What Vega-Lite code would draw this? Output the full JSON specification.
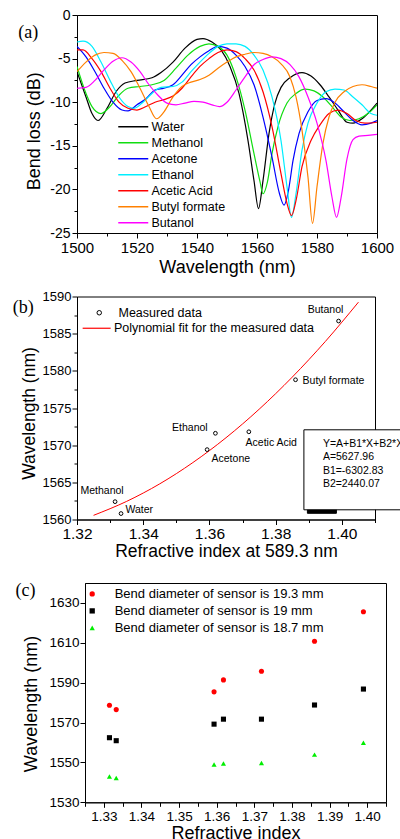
{
  "$schema": "https://vega.github.io/schema/vega-lite/v6.json",
  "background": "white",
  "padding": {"left": 12, "top": 7, "right": 22, "bottom": 0},
  "spacing": 63.5,
  "bounds": "flush",
  "resolve": {
    "scale": {"color": "independent", "shape": "independent", "fill": "independent", "stroke": "independent"},
    "legend": {"color": "independent", "shape": "independent", "fill": "independent", "stroke": "independent"}
  },
  "config": {
    "font": "Liberation Sans",
    "view": {"stroke": "black", "strokeWidth": 1},
    "axis": {"grid": false, "domainColor": "black", "tickColor": "black", "labelColor": "black", "titleColor": "black", "labelFont": "Liberation Sans", "titleFont": "Liberation Sans", "titleFontWeight": "normal", "labelFlush": false, "labelOverlap": false, "tickWidth": 1, "domainWidth": 1},
    "legend": {"labelFont": "Liberation Sans", "labelColor": "black", "labelLimit": 400},
    "title": {"font": "Liberation Serif", "fontWeight": "normal", "color": "black"}
  },
  "datasets": {
    "spectra": [
      {"liquid":"Water","wl":1500,"loss":-6.5},{"liquid":"Water","wl":1503,"loss":-9.4},{"liquid":"Water","wl":1505,"loss":-11.3},{"liquid":"Water","wl":1507,"loss":-12.1},{"liquid":"Water","wl":1510,"loss":-10.7},{"liquid":"Water","wl":1513,"loss":-8.8},{"liquid":"Water","wl":1516,"loss":-7.8},{"liquid":"Water","wl":1520,"loss":-7.5},{"liquid":"Water","wl":1525,"loss":-7.2},{"liquid":"Water","wl":1528,"loss":-6.6},{"liquid":"Water","wl":1532,"loss":-5.4},{"liquid":"Water","wl":1536,"loss":-3.8},{"liquid":"Water","wl":1540,"loss":-2.8},{"liquid":"Water","wl":1542,"loss":-2.7},{"liquid":"Water","wl":1545,"loss":-3.1},{"liquid":"Water","wl":1548,"loss":-4.0},{"liquid":"Water","wl":1551,"loss":-5.9},{"liquid":"Water","wl":1554,"loss":-9.0},{"liquid":"Water","wl":1557,"loss":-14.4},{"liquid":"Water","wl":1559,"loss":-19.0},{"liquid":"Water","wl":1560.5,"loss":-22.2},{"liquid":"Water","wl":1562,"loss":-19.0},{"liquid":"Water","wl":1564,"loss":-13.6},{"liquid":"Water","wl":1566,"loss":-10.1},{"liquid":"Water","wl":1568,"loss":-8.3},{"liquid":"Water","wl":1571,"loss":-7.2},{"liquid":"Water","wl":1575,"loss":-6.6},{"liquid":"Water","wl":1578,"loss":-7.0},{"liquid":"Water","wl":1581,"loss":-8.0},{"liquid":"Water","wl":1584,"loss":-9.4},{"liquid":"Water","wl":1587,"loss":-10.9},{"liquid":"Water","wl":1590,"loss":-12.3},{"liquid":"Water","wl":1592,"loss":-12.4},{"liquid":"Water","wl":1595,"loss":-11.9},{"liquid":"Water","wl":1598,"loss":-10.9},{"liquid":"Water","wl":1600,"loss":-10.1},
      {"liquid":"Methanol","wl":1500,"loss":-5.9},{"liquid":"Methanol","wl":1503,"loss":-9.0},{"liquid":"Methanol","wl":1505,"loss":-10.5},{"liquid":"Methanol","wl":1508,"loss":-11.3},{"liquid":"Methanol","wl":1511,"loss":-10.5},{"liquid":"Methanol","wl":1514,"loss":-9.2},{"liquid":"Methanol","wl":1517,"loss":-8.4},{"liquid":"Methanol","wl":1521,"loss":-8.2},{"liquid":"Methanol","wl":1525,"loss":-8.0},{"liquid":"Methanol","wl":1529,"loss":-7.5},{"liquid":"Methanol","wl":1533,"loss":-6.1},{"liquid":"Methanol","wl":1537,"loss":-4.6},{"liquid":"Methanol","wl":1541,"loss":-3.6},{"liquid":"Methanol","wl":1544,"loss":-3.3},{"liquid":"Methanol","wl":1547,"loss":-3.6},{"liquid":"Methanol","wl":1550,"loss":-4.6},{"liquid":"Methanol","wl":1553,"loss":-7.1},{"liquid":"Methanol","wl":1556,"loss":-10.9},{"liquid":"Methanol","wl":1559,"loss":-15.9},{"liquid":"Methanol","wl":1561,"loss":-19.1},{"liquid":"Methanol","wl":1562,"loss":-20.5},{"liquid":"Methanol","wl":1563.5,"loss":-19.1},{"liquid":"Methanol","wl":1565,"loss":-15.9},{"liquid":"Methanol","wl":1567,"loss":-12.8},{"liquid":"Methanol","wl":1570,"loss":-10.1},{"liquid":"Methanol","wl":1573,"loss":-9.0},{"liquid":"Methanol","wl":1576,"loss":-8.5},{"liquid":"Methanol","wl":1579,"loss":-8.7},{"liquid":"Methanol","wl":1582,"loss":-9.4},{"liquid":"Methanol","wl":1585,"loss":-10.5},{"liquid":"Methanol","wl":1588,"loss":-11.7},{"liquid":"Methanol","wl":1591,"loss":-12.1},{"liquid":"Methanol","wl":1594,"loss":-11.9},{"liquid":"Methanol","wl":1597,"loss":-11.3},{"liquid":"Methanol","wl":1600,"loss":-10.3},
      {"liquid":"Acetone","wl":1500,"loss":-3.6},{"liquid":"Acetone","wl":1503,"loss":-4.8},{"liquid":"Acetone","wl":1506,"loss":-6.5},{"liquid":"Acetone","wl":1509,"loss":-8.4},{"liquid":"Acetone","wl":1512,"loss":-10.0},{"liquid":"Acetone","wl":1515,"loss":-10.9},{"liquid":"Acetone","wl":1517,"loss":-11.0},{"liquid":"Acetone","wl":1520,"loss":-10.3},{"liquid":"Acetone","wl":1523,"loss":-9.6},{"liquid":"Acetone","wl":1526,"loss":-8.6},{"liquid":"Acetone","wl":1529,"loss":-8.4},{"liquid":"Acetone","wl":1532,"loss":-8.0},{"liquid":"Acetone","wl":1535,"loss":-6.9},{"liquid":"Acetone","wl":1538,"loss":-5.7},{"liquid":"Acetone","wl":1541,"loss":-4.8},{"liquid":"Acetone","wl":1544,"loss":-4.1},{"liquid":"Acetone","wl":1547,"loss":-3.6},{"liquid":"Acetone","wl":1550,"loss":-3.8},{"liquid":"Acetone","wl":1553,"loss":-4.6},{"liquid":"Acetone","wl":1556,"loss":-5.9},{"liquid":"Acetone","wl":1559,"loss":-8.0},{"liquid":"Acetone","wl":1562,"loss":-11.7},{"liquid":"Acetone","wl":1565,"loss":-16.3},{"liquid":"Acetone","wl":1567.5,"loss":-20.5},{"liquid":"Acetone","wl":1569,"loss":-21.8},{"liquid":"Acetone","wl":1570.5,"loss":-20.1},{"liquid":"Acetone","wl":1572,"loss":-16.7},{"liquid":"Acetone","wl":1574,"loss":-13.6},{"liquid":"Acetone","wl":1577,"loss":-11.1},{"liquid":"Acetone","wl":1580,"loss":-9.8},{"liquid":"Acetone","wl":1583,"loss":-9.6},{"liquid":"Acetone","wl":1586,"loss":-10.1},{"liquid":"Acetone","wl":1589,"loss":-11.1},{"liquid":"Acetone","wl":1592,"loss":-12.1},{"liquid":"Acetone","wl":1595,"loss":-12.6},{"liquid":"Acetone","wl":1598,"loss":-12.4},{"liquid":"Acetone","wl":1600,"loss":-12.1},
      {"liquid":"Ethanol","wl":1500,"loss":-3.1},{"liquid":"Ethanol","wl":1502,"loss":-3.0},{"liquid":"Ethanol","wl":1505,"loss":-3.6},{"liquid":"Ethanol","wl":1508,"loss":-5.4},{"liquid":"Ethanol","wl":1511,"loss":-7.5},{"liquid":"Ethanol","wl":1514,"loss":-9.4},{"liquid":"Ethanol","wl":1517,"loss":-10.5},{"liquid":"Ethanol","wl":1519,"loss":-10.7},{"liquid":"Ethanol","wl":1522,"loss":-10.0},{"liquid":"Ethanol","wl":1525,"loss":-9.0},{"liquid":"Ethanol","wl":1528,"loss":-8.3},{"liquid":"Ethanol","wl":1532,"loss":-8.2},{"liquid":"Ethanol","wl":1535,"loss":-7.7},{"liquid":"Ethanol","wl":1538,"loss":-6.5},{"liquid":"Ethanol","wl":1541,"loss":-5.4},{"liquid":"Ethanol","wl":1544,"loss":-4.4},{"liquid":"Ethanol","wl":1547,"loss":-3.6},{"liquid":"Ethanol","wl":1550,"loss":-3.3},{"liquid":"Ethanol","wl":1553,"loss":-3.3},{"liquid":"Ethanol","wl":1556,"loss":-3.6},{"liquid":"Ethanol","wl":1559,"loss":-4.6},{"liquid":"Ethanol","wl":1562,"loss":-6.3},{"liquid":"Ethanol","wl":1565,"loss":-9.4},{"liquid":"Ethanol","wl":1568,"loss":-14.4},{"liquid":"Ethanol","wl":1570,"loss":-19.7},{"liquid":"Ethanol","wl":1571.5,"loss":-23.2},{"liquid":"Ethanol","wl":1573,"loss":-20.5},{"liquid":"Ethanol","wl":1575,"loss":-15.5},{"liquid":"Ethanol","wl":1577,"loss":-12.4},{"liquid":"Ethanol","wl":1580,"loss":-10.1},{"liquid":"Ethanol","wl":1583,"loss":-8.8},{"liquid":"Ethanol","wl":1586,"loss":-8.5},{"liquid":"Ethanol","wl":1589,"loss":-8.6},{"liquid":"Ethanol","wl":1592,"loss":-9.4},{"liquid":"Ethanol","wl":1595,"loss":-10.3},{"liquid":"Ethanol","wl":1598,"loss":-11.3},{"liquid":"Ethanol","wl":1600,"loss":-11.5},
      {"liquid":"Acetic Acid","wl":1500,"loss":-4.0},{"liquid":"Acetic Acid","wl":1502,"loss":-4.0},{"liquid":"Acetic Acid","wl":1505,"loss":-5.0},{"liquid":"Acetic Acid","wl":1508,"loss":-6.5},{"liquid":"Acetic Acid","wl":1511,"loss":-8.4},{"liquid":"Acetic Acid","wl":1514,"loss":-10.0},{"liquid":"Acetic Acid","wl":1517,"loss":-10.7},{"liquid":"Acetic Acid","wl":1520,"loss":-10.9},{"liquid":"Acetic Acid","wl":1523,"loss":-10.5},{"liquid":"Acetic Acid","wl":1526,"loss":-10.0},{"liquid":"Acetic Acid","wl":1529,"loss":-9.7},{"liquid":"Acetic Acid","wl":1532,"loss":-9.3},{"liquid":"Acetic Acid","wl":1535,"loss":-8.4},{"liquid":"Acetic Acid","wl":1538,"loss":-7.1},{"liquid":"Acetic Acid","wl":1541,"loss":-5.9},{"liquid":"Acetic Acid","wl":1544,"loss":-5.0},{"liquid":"Acetic Acid","wl":1547,"loss":-4.3},{"liquid":"Acetic Acid","wl":1550,"loss":-4.0},{"liquid":"Acetic Acid","wl":1553,"loss":-4.2},{"liquid":"Acetic Acid","wl":1556,"loss":-5.0},{"liquid":"Acetic Acid","wl":1559,"loss":-6.3},{"liquid":"Acetic Acid","wl":1562,"loss":-8.8},{"liquid":"Acetic Acid","wl":1565,"loss":-12.8},{"liquid":"Acetic Acid","wl":1568,"loss":-18.2},{"liquid":"Acetic Acid","wl":1570,"loss":-21.6},{"liquid":"Acetic Acid","wl":1571.5,"loss":-23.0},{"liquid":"Acetic Acid","wl":1573,"loss":-21.3},{"liquid":"Acetic Acid","wl":1575,"loss":-17.4},{"liquid":"Acetic Acid","wl":1578,"loss":-14.4},{"liquid":"Acetic Acid","wl":1581,"loss":-12.6},{"liquid":"Acetic Acid","wl":1584,"loss":-11.3},{"liquid":"Acetic Acid","wl":1587,"loss":-10.9},{"liquid":"Acetic Acid","wl":1590,"loss":-11.3},{"liquid":"Acetic Acid","wl":1593,"loss":-12.1},{"liquid":"Acetic Acid","wl":1596,"loss":-12.4},{"liquid":"Acetic Acid","wl":1600,"loss":-12.3},
      {"liquid":"Butyl formate","wl":1500,"loss":-6.5},{"liquid":"Butyl formate","wl":1503,"loss":-5.4},{"liquid":"Butyl formate","wl":1506,"loss":-4.6},{"liquid":"Butyl formate","wl":1509,"loss":-4.3},{"liquid":"Butyl formate","wl":1512,"loss":-4.4},{"liquid":"Butyl formate","wl":1515,"loss":-5.2},{"liquid":"Butyl formate","wl":1518,"loss":-6.5},{"liquid":"Butyl formate","wl":1521,"loss":-8.4},{"liquid":"Butyl formate","wl":1524,"loss":-10.5},{"liquid":"Butyl formate","wl":1526.5,"loss":-11.9},{"liquid":"Butyl formate","wl":1529,"loss":-11.1},{"liquid":"Butyl formate","wl":1532,"loss":-9.4},{"liquid":"Butyl formate","wl":1535,"loss":-8.2},{"liquid":"Butyl formate","wl":1538,"loss":-7.7},{"liquid":"Butyl formate","wl":1541,"loss":-7.4},{"liquid":"Butyl formate","wl":1544,"loss":-6.9},{"liquid":"Butyl formate","wl":1547,"loss":-6.1},{"liquid":"Butyl formate","wl":1550,"loss":-5.4},{"liquid":"Butyl formate","wl":1553,"loss":-4.8},{"liquid":"Butyl formate","wl":1556,"loss":-4.5},{"liquid":"Butyl formate","wl":1559,"loss":-4.3},{"liquid":"Butyl formate","wl":1562,"loss":-4.4},{"liquid":"Butyl formate","wl":1565,"loss":-4.8},{"liquid":"Butyl formate","wl":1568,"loss":-5.6},{"liquid":"Butyl formate","wl":1571,"loss":-7.1},{"liquid":"Butyl formate","wl":1573,"loss":-9.4},{"liquid":"Butyl formate","wl":1575,"loss":-13.2},{"liquid":"Butyl formate","wl":1577,"loss":-18.6},{"liquid":"Butyl formate","wl":1578.5,"loss":-23.9},{"liquid":"Butyl formate","wl":1580,"loss":-19.7},{"liquid":"Butyl formate","wl":1582,"loss":-14.7},{"liquid":"Butyl formate","wl":1584,"loss":-11.7},{"liquid":"Butyl formate","wl":1586,"loss":-10.0},{"liquid":"Butyl formate","wl":1589,"loss":-8.8},{"liquid":"Butyl formate","wl":1592,"loss":-8.2},{"liquid":"Butyl formate","wl":1595,"loss":-8.0},{"liquid":"Butyl formate","wl":1598,"loss":-8.2},{"liquid":"Butyl formate","wl":1600,"loss":-8.4},
      {"liquid":"Butanol","wl":1500,"loss":-8.4},{"liquid":"Butanol","wl":1503,"loss":-8.3},{"liquid":"Butanol","wl":1506,"loss":-7.5},{"liquid":"Butanol","wl":1509,"loss":-6.3},{"liquid":"Butanol","wl":1512,"loss":-5.3},{"liquid":"Butanol","wl":1515,"loss":-4.9},{"liquid":"Butanol","wl":1518,"loss":-5.4},{"liquid":"Butanol","wl":1521,"loss":-6.5},{"liquid":"Butanol","wl":1524,"loss":-8.0},{"liquid":"Butanol","wl":1527,"loss":-9.2},{"liquid":"Butanol","wl":1530,"loss":-10.1},{"liquid":"Butanol","wl":1533,"loss":-10.3},{"liquid":"Butanol","wl":1536,"loss":-10.1},{"liquid":"Butanol","wl":1539,"loss":-9.9},{"liquid":"Butanol","wl":1542,"loss":-10.0},{"liquid":"Butanol","wl":1545,"loss":-10.3},{"liquid":"Butanol","wl":1547.5,"loss":-10.5},{"liquid":"Butanol","wl":1550,"loss":-10.0},{"liquid":"Butanol","wl":1553,"loss":-8.6},{"liquid":"Butanol","wl":1556,"loss":-7.1},{"liquid":"Butanol","wl":1559,"loss":-5.7},{"liquid":"Butanol","wl":1562,"loss":-5.1},{"liquid":"Butanol","wl":1565,"loss":-4.8},{"liquid":"Butanol","wl":1568,"loss":-5.0},{"liquid":"Butanol","wl":1571,"loss":-5.7},{"liquid":"Butanol","wl":1574,"loss":-7.1},{"liquid":"Butanol","wl":1577,"loss":-9.4},{"liquid":"Butanol","wl":1580,"loss":-12.4},{"liquid":"Butanol","wl":1583,"loss":-16.7},{"liquid":"Butanol","wl":1585,"loss":-20.9},{"liquid":"Butanol","wl":1586.5,"loss":-23.2},{"liquid":"Butanol","wl":1588,"loss":-21.0},{"liquid":"Butanol","wl":1590,"loss":-16.5},{"liquid":"Butanol","wl":1592,"loss":-14.3},{"liquid":"Butanol","wl":1594,"loss":-13.9},{"liquid":"Butanol","wl":1597,"loss":-13.8},{"liquid":"Butanol","wl":1600,"loss":-13.7}
    ],
    "measured": [
      {"liquid":"Methanol","ri":1.3315,"wl":1562.4},
      {"liquid":"Water","ri":1.3333,"wl":1560.8},
      {"liquid":"Acetone","ri":1.3593,"wl":1569.4},
      {"liquid":"Ethanol","ri":1.3618,"wl":1571.6},
      {"liquid":"Acetic Acid","ri":1.3719,"wl":1571.8},
      {"liquid":"Butyl formate","ri":1.386,"wl":1578.8},
      {"liquid":"Butanol","ri":1.399,"wl":1586.7}
    ],
    "fit": [
      {"ri":1.325,"wl":1560.56},{"ri":1.335,"wl":1562.44},{"ri":1.345,"wl":1564.80},{"ri":1.355,"wl":1567.66},{"ri":1.365,"wl":1571.00},{"ri":1.375,"wl":1574.83},{"ri":1.385,"wl":1579.15},{"ri":1.395,"wl":1583.95},{"ri":1.405,"wl":1589.24}
    ],
    "equation": [
      {"k":"1","line":"Y=A+B1*X+B2*X²"},{"k":"2","line":"A=5627.96"},{"k":"3","line":"B1=-6302.83"},{"k":"4","line":"B2=2440.07"}
    ],
    "bend": [
      {"series":"Bend diameter of sensor is 19.3 mm","ri":1.3315,"wl":1578.7},
      {"series":"Bend diameter of sensor is 19.3 mm","ri":1.3333,"wl":1576.5},
      {"series":"Bend diameter of sensor is 19.3 mm","ri":1.3593,"wl":1585.4},
      {"series":"Bend diameter of sensor is 19.3 mm","ri":1.3618,"wl":1591.4},
      {"series":"Bend diameter of sensor is 19.3 mm","ri":1.3719,"wl":1595.7},
      {"series":"Bend diameter of sensor is 19.3 mm","ri":1.386,"wl":1610.8},
      {"series":"Bend diameter of sensor is 19.3 mm","ri":1.399,"wl":1625.6},
      {"series":"Bend diameter of sensor is 19 mm","ri":1.3315,"wl":1562.4},
      {"series":"Bend diameter of sensor is 19 mm","ri":1.3333,"wl":1560.9},
      {"series":"Bend diameter of sensor is 19 mm","ri":1.3593,"wl":1569.2},
      {"series":"Bend diameter of sensor is 19 mm","ri":1.3618,"wl":1571.7},
      {"series":"Bend diameter of sensor is 19 mm","ri":1.3719,"wl":1571.7},
      {"series":"Bend diameter of sensor is 19 mm","ri":1.386,"wl":1578.8},
      {"series":"Bend diameter of sensor is 19 mm","ri":1.399,"wl":1586.8},
      {"series":"Bend diameter of sensor is 18.7 mm","ri":1.3315,"wl":1542.9},
      {"series":"Bend diameter of sensor is 18.7 mm","ri":1.3333,"wl":1542.2},
      {"series":"Bend diameter of sensor is 18.7 mm","ri":1.3593,"wl":1549.0},
      {"series":"Bend diameter of sensor is 18.7 mm","ri":1.3618,"wl":1549.5},
      {"series":"Bend diameter of sensor is 18.7 mm","ri":1.3719,"wl":1549.7},
      {"series":"Bend diameter of sensor is 18.7 mm","ri":1.386,"wl":1553.9},
      {"series":"Bend diameter of sensor is 18.7 mm","ri":1.399,"wl":1559.9}
    ]
  },
  "vconcat": [
    {
      "width": 300,
      "height": 218,
      "title": {"text": "(a)", "anchor": "start", "frame": "group", "orient": "top", "baseline": "middle", "offset": 0, "dx": -58.7, "dy": 43, "fontSize": 18},
      "data": {"name": "spectra"},
      "mark": {"type": "line", "interpolate": "monotone", "strokeWidth": 1.2, "clip": true},
      "encoding": {
        "x": {"field": "wl", "type": "quantitative", "scale": {"domain": [1500, 1600], "nice": false, "zero": false},
          "axis": {"title": "Wavelength (nm)", "values": [1500,1510,1520,1530,1540,1550,1560,1570,1580,1590,1600],
            "labelExpr": "datum.value % 20 === 0 ? '' + datum.value : ''",
            "tickSize": {"condition": {"test": "datum.value % 20 === 0", "value": 5}, "value": 3},
            "labelFontSize": 15, "labelPadding": 2, "titleFontSize": 18, "titleY": 25.5}},
        "y": {"field": "loss", "type": "quantitative", "scale": {"domain": [-25, 0], "nice": false, "zero": false},
          "axis": {"title": "Bend loss (dB)", "values": [-25,-22.5,-20,-17.5,-15,-12.5,-10,-7.5,-5,-2.5,0],
            "labelExpr": "datum.value % 5 === 0 ? '' + datum.value : ''",
            "tickSize": {"condition": {"test": "datum.value % 5 === 0", "value": 5}, "value": 3},
            "labelFontSize": 14, "labelPadding": 2, "titleFontSize": 18, "titleX": -34, "titleY": 115.7}},
        "color": {"field": "liquid", "type": "nominal",
          "scale": {"domain": ["Water","Methanol","Acetone","Ethanol","Acetic Acid","Butyl formate","Butanol"],
                    "range": ["#000000","#10dd10","#0000ff","#00eeff","#ff0000","#ff8000","#ff00ff"]},
          "legend": {"title": null, "orient": "none", "legendX": 50, "legendY": 105.5, "symbolType": "M-3,0H3", "symbolSize": 100, "symbolStrokeWidth": 1.5, "labelFontSize": 12.5, "labelOffset": 12, "rowPadding": 3, "padding": 0}}
      }
    },
    {
      "width": 298,
      "height": 223,
      "title": {"text": "(b)", "anchor": "start", "frame": "group", "orient": "top", "baseline": "middle", "offset": 0, "dx": -64.3, "dy": 35.5, "fontSize": 18},
      "resolve": {
        "scale": {"color": "independent", "shape": "independent", "fill": "independent", "stroke": "independent"},
        "legend": {"color": "independent", "shape": "independent", "fill": "independent", "stroke": "independent"}
      },
      "encoding": {
        "x": {"field": "ri", "type": "quantitative", "scale": {"domain": [1.32, 1.41], "nice": false, "zero": false},
          "axis": {"title": "Refractive index at 589.3 nm", "values": [1.32,1.33,1.34,1.35,1.36,1.37,1.38,1.39,1.40,1.41],
            "labelExpr": "round(datum.value*100) % 2 === 0 ? format(datum.value, '.2f') : ''",
            "tickSize": {"condition": {"test": "round(datum.value*100) % 2 === 0", "value": 5}, "value": 3},
            "labelFontSize": 15.5, "labelPadding": 2, "titleFontSize": 17.5, "titleY": 23.4}},
        "y": {"field": "wl", "type": "quantitative", "scale": {"domain": [1560, 1590], "nice": false, "zero": false},
          "axis": {"title": "Wavelength (nm)", "values": [1560,1562.5,1565,1567.5,1570,1572.5,1575,1577.5,1580,1582.5,1585,1587.5,1590],
            "labelExpr": "datum.value % 5 === 0 ? '' + datum.value : ''",
            "tickSize": {"condition": {"test": "datum.value % 5 === 0", "value": 5}, "value": 3},
            "labelFontSize": 13, "labelPadding": 1, "titleFontSize": 17.5, "titleX": -38.9, "titleY": 116.5}}
      },
      "layer": [
        {
          "data": {"name": "fit"},
          "mark": {"type": "line", "interpolate": "monotone", "strokeWidth": 1},
          "encoding": {
            "color": {"datum": "Polynomial fit for the measured data", "type": "nominal", "scale": {"range": ["#ff0000"]},
              "legend": {"title": null, "orient": "none", "legendX": 13.4, "legendY": 25.5, "symbolType": "M-2.8,0H2.8", "symbolSize": 100, "symbolStrokeWidth": 1.2, "labelFontSize": 12.5, "labelOffset": 11, "padding": 0, "labelLimit": 400}}
          }
        },
        {
          "data": {"name": "measured"},
          "mark": {"type": "point", "filled": false, "color": "black", "size": 14, "strokeWidth": 1, "opacity": 1},
          "encoding": {
            "shape": {"datum": "Measured data", "type": "nominal", "scale": {"range": ["circle"]},
              "legend": {"title": null, "orient": "none", "legendX": 16, "legendY": 10, "symbolSize": 20, "symbolStrokeColor": "black", "symbolFillColor": "transparent", "symbolStrokeWidth": 1, "labelFontSize": 12.5, "labelOffset": 13, "padding": 0}}
          }
        },
        {
          "data": {"name": "measured"},
          "transform": [{"filter": "datum.liquid === 'Butanol' || datum.liquid === 'Methanol'"}],
          "mark": {"type": "text", "align": "center", "baseline": "middle", "dx": -13, "dy": -11, "fontSize": 10.5, "color": "black"},
          "encoding": {"text": {"field": "liquid"}}
        },
        {
          "data": {"name": "measured"},
          "transform": [{"filter": "datum.liquid === 'Ethanol'"}],
          "mark": {"type": "text", "align": "right", "baseline": "middle", "dx": -7.7, "dy": -5, "fontSize": 10.5, "color": "black"},
          "encoding": {"text": {"field": "liquid"}}
        },
        {
          "data": {"name": "measured"},
          "transform": [{"filter": "datum.liquid === 'Butyl formate'"}],
          "mark": {"type": "text", "align": "left", "baseline": "middle", "dx": 7, "dy": 1.7, "fontSize": 10.5, "color": "black"},
          "encoding": {"text": {"field": "liquid"}}
        },
        {
          "data": {"name": "measured"},
          "transform": [{"filter": "datum.liquid === 'Water'"}],
          "mark": {"type": "text", "align": "left", "baseline": "middle", "dx": 4.4, "dy": -3.7, "fontSize": 10.5, "color": "black"},
          "encoding": {"text": {"field": "liquid"}}
        },
        {
          "data": {"name": "measured"},
          "transform": [{"filter": "datum.liquid === 'Acetone'"}],
          "mark": {"type": "text", "align": "left", "baseline": "middle", "dx": 4.4, "dy": 9, "fontSize": 10.5, "color": "black"},
          "encoding": {"text": {"field": "liquid"}}
        },
        {
          "data": {"name": "measured"},
          "transform": [{"filter": "datum.liquid === 'Acetic Acid'"}],
          "mark": {"type": "text", "align": "left", "baseline": "middle", "dx": -3.3, "dy": 11.6, "fontSize": 10.5, "color": "black"},
          "encoding": {"text": {"field": "liquid"}}
        },
        {
          "data": {"name": "equation"},
          "mark": {"type": "point", "filled": true, "opacity": 0},
          "encoding": {
            "x": {"field": "none", "type": "quantitative"},
            "y": {"field": "none", "type": "quantitative"},
            "fill": {"field": "line", "type": "nominal",
              "scale": {"domain": ["Y=A+B1*X+B2*X²","A=5627.96","B1=-6302.83","B2=2440.07"], "range": ["#ffffff","#ffffff","#ffffff","#ffffff"]},
              "legend": {"title": " ", "titleOrient": "bottom", "titleFontSize": 11, "titlePadding": 0, "orient": "none", "legendX": 226.4, "legendY": 132.8, "padding": 9, "fillColor": "white", "strokeColor": "black", "labelFontSize": 10.5, "symbolSize": 0, "symbolStrokeWidth": 0, "symbolOpacity": 0, "labelOffset": 0, "rowPadding": 2.5, "labelLimit": 300, "zindex": 2}},
            "stroke": {"field": "k", "type": "nominal",
              "scale": {"domain": ["1","2","3","4"], "range": ["#000000","#000000","#000000","#000000"]},
              "legend": {"title": " ", "titleOrient": "bottom", "titleFontSize": 11, "titlePadding": 0, "orient": "none", "legendX": 229.9, "legendY": 136.3, "padding": 9, "fillColor": "black", "strokeColor": "black", "labelColor": "black", "labelOpacity": 0, "labelFontSize": 10.5, "labelExpr": "'\u2003\u2003\u2003\u2003\u2003\u2003\u2003\u2003\u2003'", "symbolSize": 0, "symbolStrokeWidth": 0, "symbolOpacity": 0, "labelOffset": 0, "rowPadding": 2.5, "labelLimit": 300, "zindex": 1}}
          }
        }
      ]
    },
    {
      "hconcat": [
        {
          "width": 7.5,
          "height": 219.3,
          "view": {"stroke": null},
          "data": {"values": [{"a": 1}]},
          "mark": {"type": "point", "opacity": 0},
          "encoding": {}
        },
        {
          "width": 301,
          "height": 219.3,
          "title": {"text": "(c)", "anchor": "start", "frame": "group", "orient": "top", "baseline": "middle", "offset": 0, "dx": -69.5, "dy": 25.6, "fontSize": 18},
          "data": {"name": "bend"},
          "mark": {"type": "point", "filled": true, "size": 26, "opacity": 1},
          "encoding": {
            "x": {"field": "ri", "type": "quantitative", "scale": {"domain": [1.325, 1.405], "nice": false, "zero": false},
              "axis": {"title": "Refractive index", "values": [1.325,1.33,1.335,1.34,1.345,1.35,1.355,1.36,1.365,1.37,1.375,1.38,1.385,1.39,1.395,1.40,1.405],
                "labelExpr": "round(datum.value*1000) % 10 === 0 ? format(datum.value, '.2f') : ''",
                "tickSize": {"condition": {"test": "round(datum.value*1000) % 10 === 0", "value": 5}, "value": 4},
                "labelFontSize": 13.5, "labelPadding": 2, "titleFontSize": 18, "titleY": 21.7}},
            "y": {"field": "wl", "type": "quantitative", "scale": {"domain": [1530, 1640], "nice": false, "zero": false},
              "axis": {"title": "Wavelength (nm)", "values": [1530,1550,1570,1590,1610,1630], "format": "d",
                "tickSize": 5, "labelFontSize": 13.5, "labelPadding": 1, "titleFontSize": 18, "titleX": -44.7, "titleY": 120.5}},
            "color": {"field": "series", "type": "nominal",
              "scale": {"domain": ["Bend diameter of sensor is 19.3 mm","Bend diameter of sensor is 19 mm","Bend diameter of sensor is 18.7 mm"], "range": ["#ff0000","#000000","#00ee00"]},
              "legend": {"title": null, "orient": "none", "legendX": 8.7, "legendY": 4.4, "labelFontSize": 13, "labelOffset": 16, "rowPadding": 3, "symbolSize": 28, "padding": 0, "labelLimit": 400}},
            "shape": {"field": "series", "type": "nominal",
              "scale": {"domain": ["Bend diameter of sensor is 19.3 mm","Bend diameter of sensor is 19 mm","Bend diameter of sensor is 18.7 mm"], "range": ["circle","square","triangle-up"]}}
          }
        }
      ],
      "spacing": 0,
      "bounds": "flush"
    }
  ]
}
